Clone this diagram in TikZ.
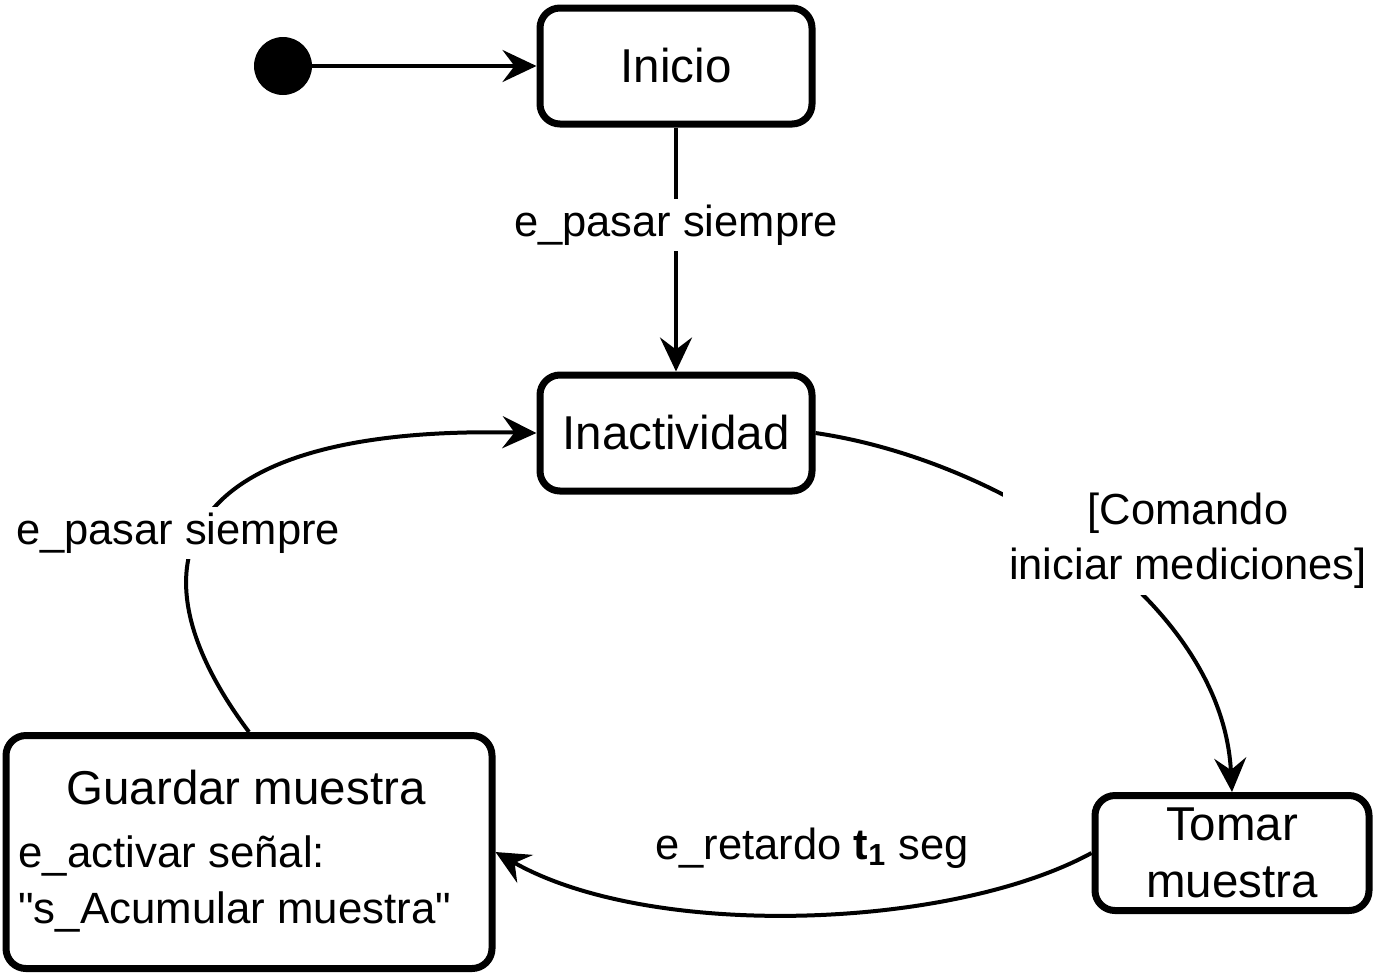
\documentclass[tikz,border=0pt]{standalone}
\usepackage{fontspec}
\setmainfont{Liberation Sans}[Ligatures=TeXOff]
\usetikzlibrary{arrows.meta}
\begin{document}
\begin{tikzpicture}[x=0.5pt,y=-0.5pt,
  state/.style={draw, line width=3.5pt, rounded corners=10pt, fill=white, align=center, font=\fontsize{23.75}{28.5}\selectfont, inner sep=0pt},
  stxt/.style={font=\fontsize{23.75}{28.5}\selectfont, inner sep=0pt},
  btxt/.style={font=\fontsize{21.9}{27.5}\selectfont, inner sep=0pt},
  lbl/.style={font=\fontsize{21.75}{27.5}\selectfont, align=center, fill=white, inner sep=3pt},
  conn/.style={line width=2pt, -{Stealth[length=17pt,width=16pt,inset=6pt]}},
]
\useasboundingbox (0,0) rectangle (1380,976);
\node[circle, fill=black, minimum size=29pt, inner sep=0pt] (start) at (283,66) {};
\node[state, minimum width=136pt, minimum height=58pt] (inicio) at (676,66) {Inicio};
\node[state, minimum width=136pt, minimum height=58pt] (inact) at (676,433) {Inactividad};
\node[state, minimum width=137pt, minimum height=57.5pt] (tomar) at (1232,853) {Tomar\\muestra};
\node[state, minimum width=243pt, minimum height=116.5pt] (guardar) at (249,852) {};
\node[stxt] (g1) at (246,788) {Guardar muestra};
\node[btxt, anchor=west] (g2) at (18,856) {e\_activar señal:};
\node[btxt, anchor=west] (g3) at (18,912) {"s\_Acumular muestra"};

\draw[conn] (start) -- (inicio);
\draw[conn] (inicio) -- (inact);
\draw[conn] (inact.east) .. controls (1000,460) and (1222,600) .. (tomar.north);
\draw[conn] (tomar.west) .. controls (950,930) and (650,940) .. (guardar.east);
\draw[conn] (guardar.north) .. controls (120,560) and (180,425) .. (inact.west);

\node[lbl] (l1) at (676,225) {e\_pasar siempre};
\node[lbl] (l2) at (1188,541) {[Comando\\iniciar mediciones]};
\node[lbl, fill=none] (l3) at (812,848) {e\_retardo \textbf{t}\textsubscript{\textbf{1}} seg};
\node[lbl] (l4) at (178,533) {e\_pasar siempre};
\end{tikzpicture}
\end{document}
